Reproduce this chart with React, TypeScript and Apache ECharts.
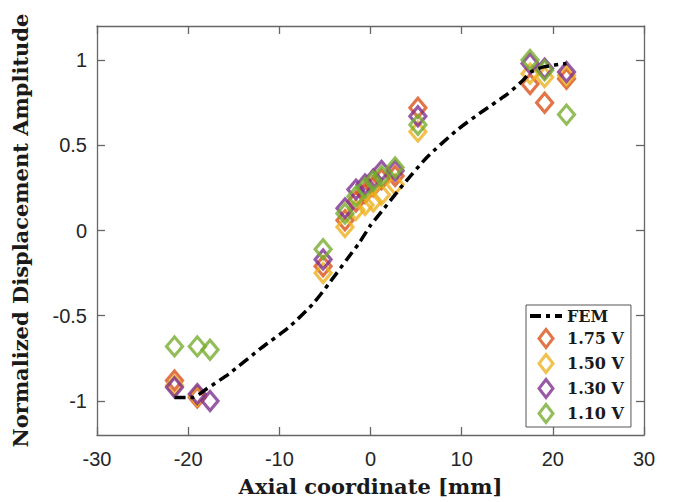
import React, { useEffect, useRef } from 'react';
import * as echarts from 'echarts';

// FEM simulation curve
const femX = [-21.5, -19.5, -18, -15.5, -12, -9, -6.3, -4.4, -2.6, -1.2, 0, 1.5, 3.6, 6.2, 9.5, 12.3, 15, 16.7, 17.6, 19, 21.5];
const femY = [-0.98, -0.98, -0.93, -0.84, -0.69, -0.57, -0.43, -0.3, -0.17, -0.07, 0.03, 0.13, 0.27, 0.43, 0.59, 0.7, 0.8, 0.88, 0.93, 0.96, 0.98];

// Measurement positions (mm)
const axialX = [-21.5, -19.0, -17.6, -5.2, -2.8, -1.6, -0.6, 0.3, 1.2, 2.7, 5.2, 17.5, 19.1, 21.5];
// Normalized amplitudes per drive voltage
const amp175 = [-0.88, -0.98, null, -0.21, 0.06, 0.17, 0.22, 0.26, 0.3, 0.32, 0.72, 0.86, 0.75, 0.89];
const amp150 = [-0.91, -0.97, null, -0.25, 0.02, 0.12, 0.15, 0.17, 0.21, 0.27, 0.58, 0.92, 0.9, 0.91];
const amp130 = [-0.92, -0.96, -1.0, -0.17, 0.13, 0.24, 0.27, 0.3, 0.35, 0.35, 0.67, 0.98, 0.95, 0.93];
const amp110 = [-0.68, -0.68, -0.7, -0.11, 0.1, 0.2, 0.25, 0.29, 0.32, 0.37, 0.62, 1.0, 0.94, 0.68];

const seriesNames = ['1.75 V', '1.50 V', '1.30 V', '1.10 V'];
const seriesColors = ['#D95319', '#EDB120', '#7E2F8E', '#77AC30'];
const yTicks = [-1, -0.5, 0, 0.5, 1];

const dashDotIcon = 'path://M0,0h11v4H0z M16,0h4v4h-4z M25,0h7v4h-7z';
const diamondIcon = 'path://M8,0L15,9L8,18L1,9Z';

export default function App() {
  const ref = useRef<HTMLDivElement>(null);
  useEffect(() => {
    const chart = echarts.init(ref.current!, null, { renderer: 'svg' });
    const toPts = (ys: (number | null)[]) =>
      axialX.map((x, i) => (ys[i] == null ? null : [x, ys[i]])).filter((p) => p !== null);
    const amps = [amp175, amp150, amp130, amp110];
    const axisColor = '#666';
    const labelFont = { fontFamily: 'Liberation Sans', fontSize: 20, color: '#262626' };
    const nameFont = { fontFamily: 'DejaVu Serif', fontWeight: 'bold', fontSize: 21, color: '#1a1a1a' };
    const common = {
      axisLine: { show: true, onZero: false, lineStyle: { color: axisColor, width: 1.3 } },
      splitLine: { show: false },
    };
    const tick = { inside: true, length: 8, lineStyle: { color: axisColor, width: 1.3 } };
    const option: any = {
      animation: false,
      backgroundColor: '#fff',
      grid: { left: 97, right: 29, top: 26, bottom: 67, containLabel: false },
      xAxis: [
        {
          type: 'value', min: -30, max: 30, interval: 10, position: 'bottom',
          ...common,
          axisTick: tick,
          axisLabel: { ...labelFont, margin: 14 },
          name: 'Axial coordinate [mm]', nameLocation: 'middle', nameGap: 41, nameTextStyle: nameFont,
        },
        {
          type: 'value', min: -30, max: 30, interval: 10, position: 'top',
          ...common,
          axisTick: tick,
          axisLabel: { show: false },
        },
      ],
      yAxis: [
        {
          type: 'value', min: -1.2, max: 1.2, position: 'left',
          ...common,
          axisTick: { ...tick, customValues: yTicks },
          axisLabel: { ...labelFont, margin: 10, customValues: yTicks, formatter: (v: number) => String(v) },
          name: 'Normalized Displacement Amplitude', nameLocation: 'middle', nameGap: 66, nameTextStyle: nameFont,
        },
        {
          type: 'value', min: -1.2, max: 1.2, position: 'right',
          ...common,
          axisTick: { ...tick, customValues: yTicks },
          axisLabel: { show: false, customValues: yTicks },
        },
      ],
      legend: {
        orient: 'vertical', left: 526, top: 305,
        padding: [3, 7, 3, 4], itemGap: 4, itemWidth: 32, itemHeight: 18,
        symbolKeepAspect: true,
        borderColor: '#555', borderWidth: 1, backgroundColor: '#fff',
        itemStyle: { borderWidth: 3 },
        textStyle: { fontFamily: 'DejaVu Serif', fontWeight: 'bold', fontSize: 16, lineHeight: 16, color: '#1a1a1a' },
        data: [
          { name: 'FEM', icon: dashDotIcon, itemStyle: { color: '#000', borderWidth: 0 } },
          ...seriesNames.map((n) => ({ name: n, icon: diamondIcon })),
        ],
      },
      series: [
        ...seriesNames.map((name, k) => ({
          name, type: 'scatter', xAxisIndex: 0, yAxisIndex: 0,
          symbol: 'diamond', symbolSize: [16, 19], z: 2 + k * 0.01,
          itemStyle: { color: 'transparent', borderColor: seriesColors[k], borderWidth: 3.2 },
          data: toPts(amps[k]),
        })),
        {
          name: 'FEM', type: 'line', xAxisIndex: 0, yAxisIndex: 0, z: 3,
          symbol: 'none', smooth: 0.2,
          lineStyle: { color: '#000', width: 3.5, type: [11, 5, 4, 5] },
          itemStyle: { color: '#000' },
          data: femX.map((x, i) => [x, femY[i]]),
        },
      ],
    };
    chart.setOption(option);
    return () => chart.dispose();
  }, []);
  return <div ref={ref} style={{ position: 'fixed', left: 0, top: 0, width: 673, height: 502 }} />;
}
